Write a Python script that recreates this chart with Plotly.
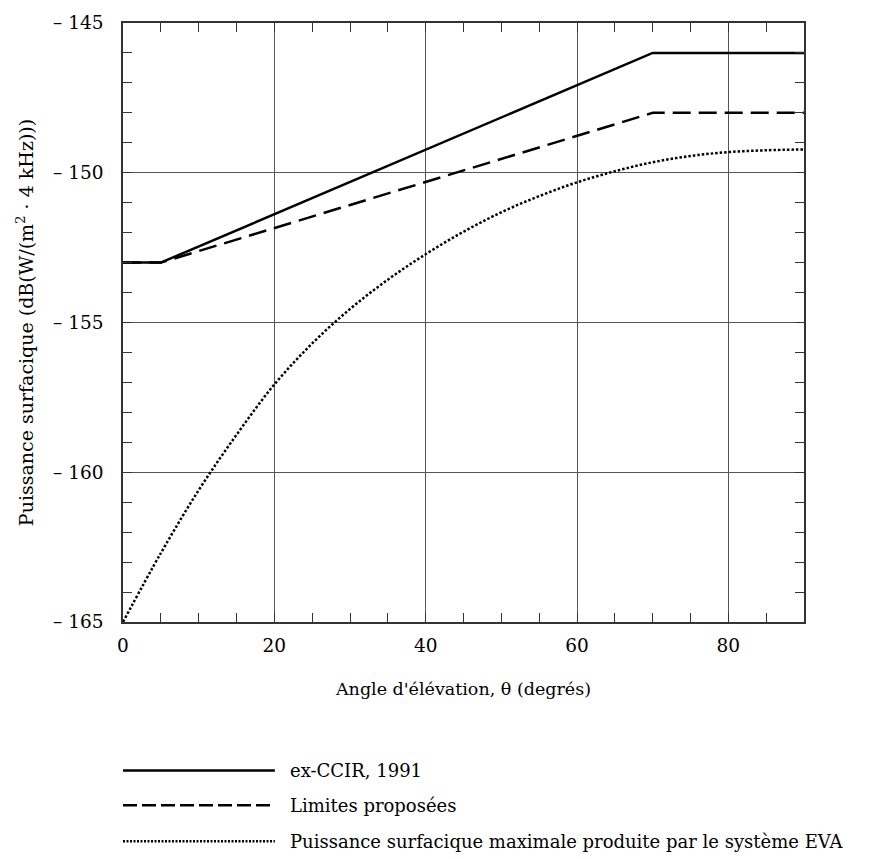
import plotly.graph_objects as go

# Data
ccir_x = [0, 5, 70, 90]
ccir_y = [-153, -153, -146, -146]

prop_x = [0, 5, 70, 90]
prop_y = [-153, -153, -148, -148]

eva_x = [0, 5, 10, 15, 20, 25, 30, 35, 40, 45, 50, 55, 60, 65, 70, 75, 80, 85, 90]
eva_y = [-165, -162.7, -160.6, -158.75, -157.07, -155.7, -154.55, -153.57, -152.72,
         -151.97, -151.32, -150.78, -150.32, -149.95, -149.65, -149.44, -149.31, -149.25, -149.22]

series_names = ["ex-CCIR, 1991", "Limites proposées",
                "Puissance surfacique maximale produite par le système EVA"]

x_ticks = [0, 20, 40, 60, 80]
x_ticktext = ["0", "20", "40", "60", "80"]
y_ticks = [-165, -160, -155, -150, -145]
y_ticktext = ["– 165", "– 160", "– 155", "– 150", "– 145"]

FONT = "DejaVu Serif"
dashes = ["solid", "18px,8px", "2.5px,2px"]
leg_dashes = ["solid", "14px,5px", "2px,1.5px"]

fig = go.Figure()
for xs, ys, name, d, shp in [(ccir_x, ccir_y, series_names[0], dashes[0], "linear"),
                             (prop_x, prop_y, series_names[1], dashes[1], "linear"),
                             (eva_x, eva_y, series_names[2], dashes[2], "spline")]:
    fig.add_trace(go.Scatter(x=xs, y=ys, mode="lines", name=name,
                             line=dict(color="black", width=2.5, dash=d, shape=shp),
                             showlegend=False))

axis_common = dict(
    showline=True, linecolor="#333333", linewidth=1.5, mirror="allticks",
    ticks="inside", ticklen=9, tickcolor="#333333", tickwidth=1.2,
    showgrid=True, gridcolor="#555555", gridwidth=1, zeroline=False,
    tickfont=dict(family=FONT, size=18.5, color="black"),
)

fig.update_xaxes(
    range=[0, 90], tickvals=x_ticks, ticktext=x_ticktext,
    minor=dict(dtick=5, ticks="inside", ticklen=9, tickcolor="#333333", tickwidth=1.2, showgrid=False),
    title=dict(text="Angle d'élévation, θ (degrés)", font=dict(family=FONT, size=17.5, color="black"), standoff=28),
    ticklabelstandoff=6,
    **axis_common,
)
fig.update_yaxes(
    range=[-165, -145], tickvals=y_ticks, ticktext=y_ticktext,
    minor=dict(dtick=1, ticks="inside", ticklen=9, tickcolor="#333333", tickwidth=1.2, showgrid=False),
    title=dict(text="Puissance surfacique (dB(W/(m<sup>2</sup> · 4 kHz)))",
               font=dict(family=FONT, size=19, color="black"), standoff=14),
    ticklabelstandoff=14,
    **axis_common,
)

# Manual legend below the chart
leg_y = [-0.248, -0.306, -0.366]
for i in range(3):
    fig.add_shape(type="line", xref="paper", yref="paper",
                  x0=0.0, x1=0.223, y0=leg_y[i], y1=leg_y[i],
                  line=dict(color="black", width=2.5, dash=leg_dashes[i]))
    fig.add_annotation(xref="paper", yref="paper", x=0.242, y=leg_y[i],
                       text=series_names[i], showarrow=False, xanchor="left", yanchor="middle",
                       font=dict(family=FONT, size=18, color="black"))

fig.update_layout(
    width=875, height=859,
    margin=dict(l=123, r=71, t=16, b=237),
    paper_bgcolor="white", plot_bgcolor="white",
    font=dict(family=FONT, color="black"),
)

fig.write_html("out.html", config={"displayModeBar": False},
               post_script="document.body.style.margin='0';document.body.style.overflow='hidden';")
